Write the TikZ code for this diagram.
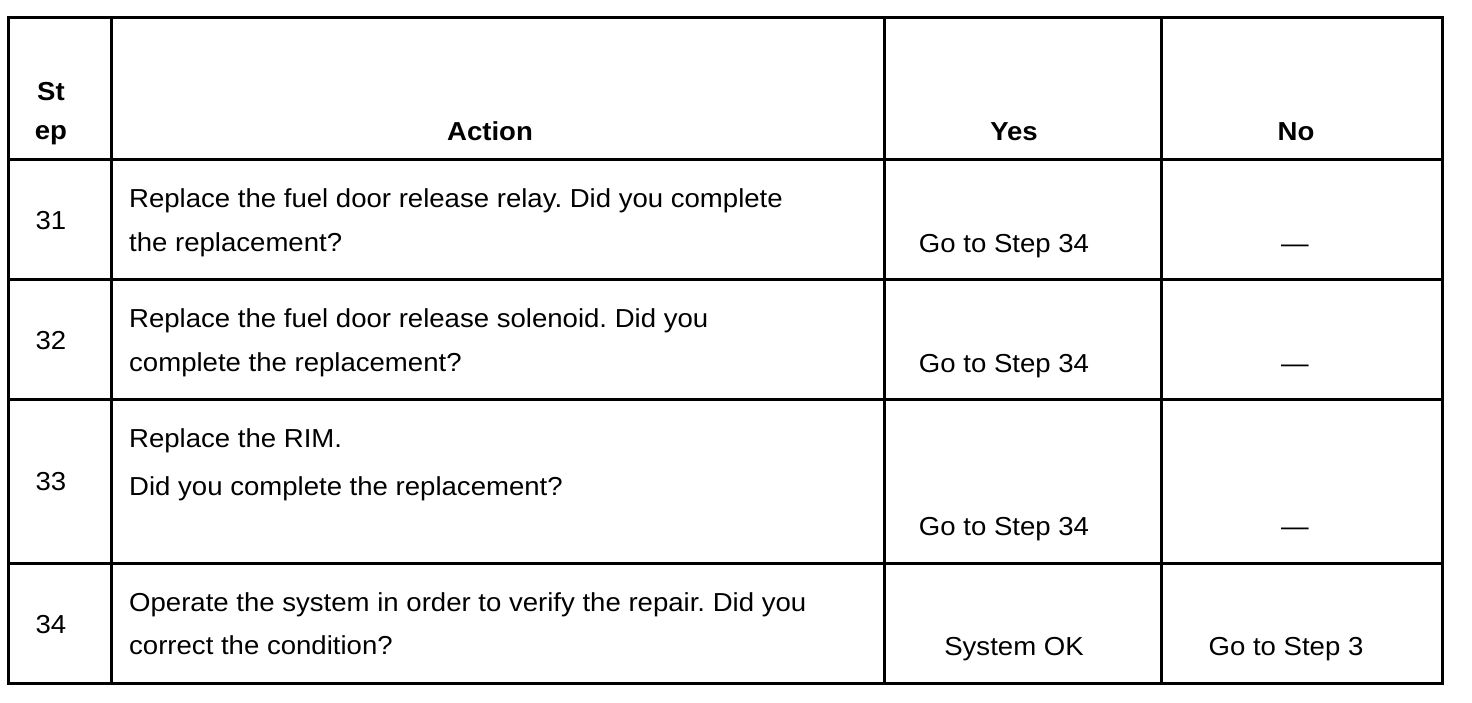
\documentclass[tikz,border=0pt]{standalone}
\usepackage{fontspec}
\setmainfont[FakeStretch=1.06]{Liberation Sans}
\begin{document}
\frenchspacing
\begin{tikzpicture}[x=1pt,y=-1pt,
  grid/.style={line width=3pt,black},
  txt/.style={inner sep=0pt,anchor=base west,font=\fontsize{26}{30}\selectfont},
  ctxt/.style={inner sep=0pt,anchor=base,font=\fontsize{26}{30}\selectfont},
  hdr/.style={inner sep=0pt,anchor=base,font=\fontsize{26}{30}\selectfont\bfseries}]
\useasboundingbox (0,0) rectangle (1472,702);
% grid
\draw[grid] (8,17) rectangle (1442,683);
\foreach \xx in {111,884,1161} \draw[grid] (\xx,17) -- (\xx,683);
\foreach \yy in {159,279,399,563} \draw[grid] (8,\yy) -- (1442,\yy);
% header
\node[hdr] (hst) at (51,100) {St};
\node[hdr] (hep) at (51,139) {ep};
\node[hdr] (hact) at (490,140) {Action};
\node[hdr] (hyes) at (1014,140) {Yes};
\node[hdr] (hno) at (1296,140) {No};
% row 31
\node[ctxt] (s31) at (51,229) {31};
\node[txt] (a31a) at (129,207) {Replace the fuel door release relay. Did you complete};
\node[txt] (a31b) at (129,251) {the replacement?};
\node[ctxt] (y31) at (1004,252) {Go to Step 34};
\node[ctxt] (n31) at (1295,252) {—};
% row 32
\node[ctxt] (s32) at (51,349) {32};
\node[txt] (a32a) at (129,327) {Replace the fuel door release solenoid. Did you};
\node[txt] (a32b) at (129,371) {complete the replacement?};
\node[ctxt] (y32) at (1004,372) {Go to Step 34};
\node[ctxt] (n32) at (1295,372) {—};
% row 33
\node[ctxt] (s33) at (51,490) {33};
\node[txt] (a33a) at (129,447) {Replace the RIM.};
\node[txt] (a33b) at (129,495) {Did you complete the replacement?};
\node[ctxt] (y33) at (1004,535) {Go to Step 34};
\node[ctxt] (n33) at (1295,535) {—};
% row 34
\node[ctxt] (s34) at (51,633) {34};
\node[txt] (a34a) at (129,611) {Operate the system in order to verify the repair. Did you};
\node[txt] (a34b) at (129,654) {correct the condition?};
\node[ctxt] (y34) at (1014,655) {System OK};
\node[ctxt] (n34) at (1286,655) {Go to Step 3};
\end{tikzpicture}
\end{document}
